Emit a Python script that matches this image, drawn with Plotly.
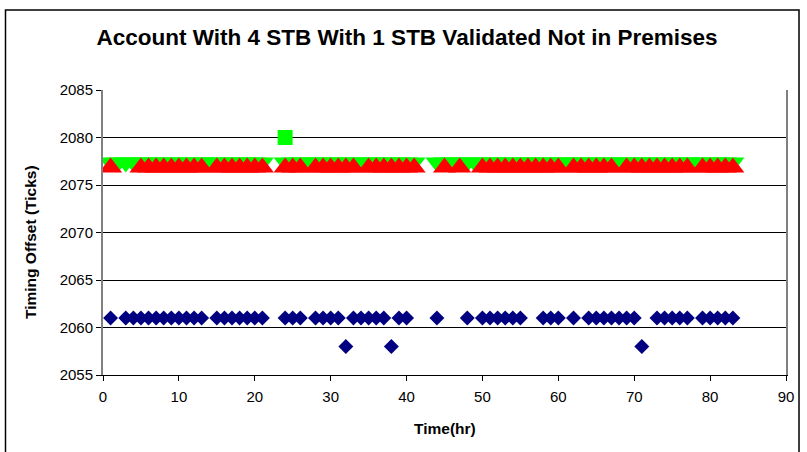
import plotly.graph_objects as go

# --- data (hours, timing offset in ticks) ---
stb1_hours = [1, 3, 4, 5, 6, 7, 8, 9, 10, 11, 12, 13, 15, 16, 17, 18, 19, 20, 21,
              24, 25, 26, 28, 29, 30, 31, 32, 33, 34, 35, 36, 37, 38, 39, 40, 44, 48,
              50, 51, 52, 53, 54, 55, 58, 59, 60, 62, 64, 65, 66, 67, 68, 69, 70, 71,
              73, 74, 75, 76, 77, 79, 80, 81, 82, 83]
stb1_values = [2061] * len(stb1_hours)
for _h in (32, 38, 71):
    stb1_values[stb1_hours.index(_h)] = 2058

stb2_hours = [24]
stb2_values = [2080]

stb4_hours = list(range(1, 22)) + list(range(24, 42)) + list(range(44, 84))
stb4_values = [2077] * len(stb4_hours)

stb3_hours = ([1] + list(range(5, 14)) + list(range(15, 22)) + [24, 25, 26]
              + list(range(28, 34)) + list(range(35, 42)) + [45, 47]
              + list(range(50, 61)) + list(range(62, 68)) + list(range(69, 78))
              + list(range(79, 84)))
stb3_values = [2077] * len(stb3_hours)

title_text = "Account With 4 STB With 1 STB Validated Not in Premises"
x_title = "Time(hr)"
y_title = "Timing Offset (Ticks)"

W, H = 807, 452
ml, mr, mt, mb = 103, 21, 90, 77
pw, ph = W - ml - mr, H - mt - mb
Y0, Y1 = 2055, 2085
TRI = 20
UNITS_PER_PX = (Y1 - Y0) / ph

# Plotly's triangle glyphs are not centred on their point the way Excel's are;
# hidden overlaying axes re-centre the glyphs (in pixels) without touching the data.
green_up_px = 3.5
red_down_px = 1.5

fig = go.Figure()
fig.add_trace(go.Scatter(x=stb1_hours, y=stb1_values, mode="markers", name="STB 1",
                         marker=dict(symbol="diamond", size=11.5, color="#000080",
                                     line=dict(width=0))))
fig.add_trace(go.Scatter(x=stb2_hours, y=stb2_values, mode="markers", name="STB 2",
                         marker=dict(symbol="square", size=15, color="#00FF00",
                                     line=dict(width=0))))
fig.add_trace(go.Scatter(x=stb4_hours, y=stb4_values, mode="markers", name="STB 4",
                         yaxis="y2",
                         marker=dict(symbol="triangle-down", size=TRI, color="#00FF00",
                                     line=dict(width=0))))
fig.add_trace(go.Scatter(x=stb3_hours, y=stb3_values, mode="markers", name="STB 3",
                         yaxis="y3",
                         marker=dict(symbol="triangle-up", size=TRI, color="#FF0000",
                                     line=dict(width=0))))


def px_to_paper_x(px):
    return (px - ml) / pw


def px_to_paper_y(py):
    return (H - mb - py) / ph


FONT = "Liberation Sans, Arial, sans-serif"
g = green_up_px * UNITS_PER_PX
r = red_down_px * UNITS_PER_PX

fig.update_layout(
    width=W, height=H,
    margin=dict(l=ml, r=mr, t=mt, b=mb),
    paper_bgcolor="white", plot_bgcolor="white",
    showlegend=False,
    font=dict(family=FONT, color="black", size=15),
    title=dict(text="<b>" + title_text + "</b>", x=407 / W, xanchor="center",
               y=1 - 37 / H, yanchor="middle",
               font=dict(size=22.5, family=FONT)),
    xaxis=dict(range=[0, 90], dtick=10, tick0=0, showgrid=False, zeroline=False,
               showline=True, linecolor="black", linewidth=1,
               ticks="outside", ticklen=5, tickcolor="black",
               ticklabelstandoff=3,
               tickfont=dict(size=15)),
    yaxis=dict(range=[Y0, Y1], dtick=5, tick0=2055, showgrid=True,
               gridcolor="black", gridwidth=1, zeroline=False,
               showline=True, linecolor="#808080", linewidth=2, mirror=True,
               ticks="outside", ticklen=5, tickcolor="black",
               tickfont=dict(size=15)),
    yaxis2=dict(range=[Y0 - g, Y1 - g], overlaying="y", visible=False),
    yaxis3=dict(range=[Y0 + r, Y1 + r], overlaying="y", visible=False),
    annotations=[
        dict(text="<b>" + x_title + "</b>", xref="paper", yref="paper",
             x=0.5, y=px_to_paper_y(428), xanchor="center", yanchor="middle",
             showarrow=False, font=dict(size=15.5, family=FONT)),
        dict(text="<b>" + y_title + "</b>", xref="paper", yref="paper",
             x=px_to_paper_x(30), y=px_to_paper_y(242), xanchor="center", yanchor="middle",
             textangle=-90, showarrow=False, font=dict(size=15.5, family=FONT)),
    ],
    shapes=[dict(type="rect", xref="paper", yref="paper",
                 x0=px_to_paper_x(5.5), x1=px_to_paper_x(799),
                 y0=px_to_paper_y(470), y1=px_to_paper_y(10),
                 line=dict(color="black", width=1.5), fillcolor="rgba(0,0,0,0)",
                 layer="below")],
)

fig.write_html("out.html")
